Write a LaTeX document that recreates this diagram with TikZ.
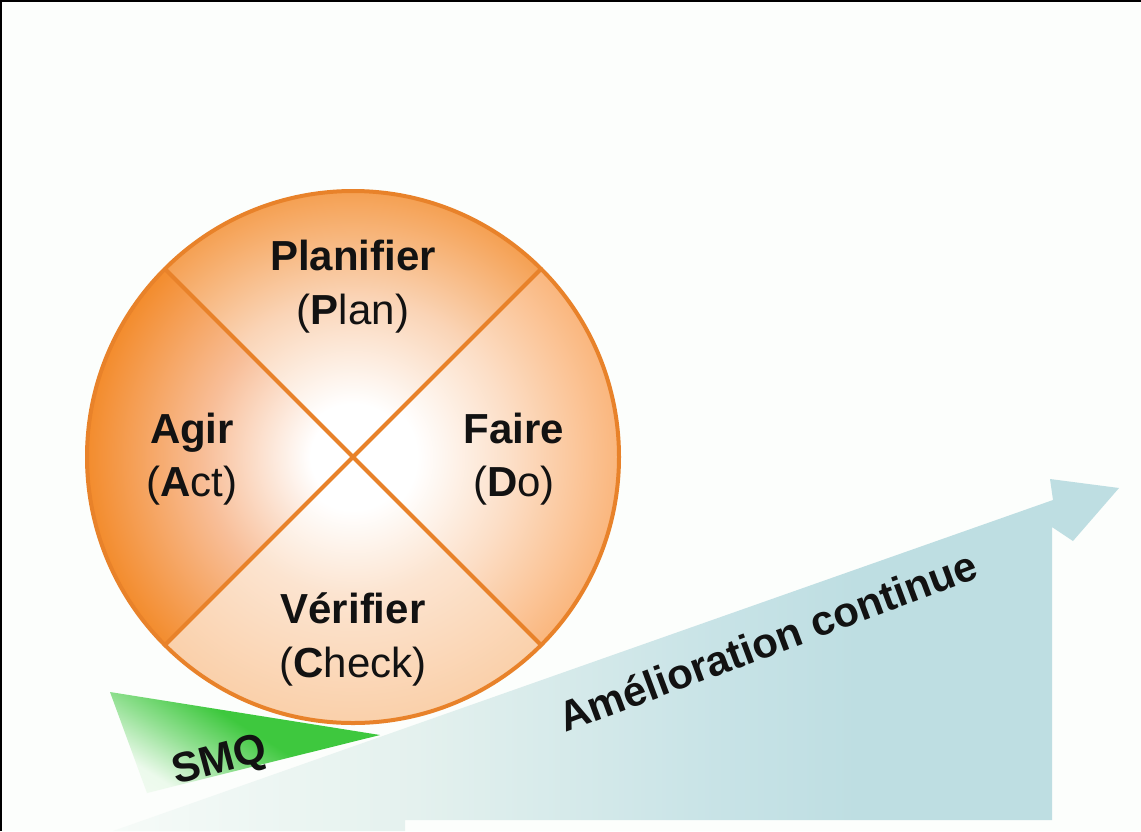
\documentclass[tikz,border=0pt]{standalone}
\usepackage{fontspec}
\setmainfont{Liberation Sans}
\definecolor{bg}{RGB}{252,254,252}
\definecolor{rim}{RGB}{232,130,42}
\definecolor{qtopc}{RGB}{245,160,82}
\definecolor{qtopm}{RGB}{250,212,182}
\definecolor{qleftc}{RGB}{243,140,45}
\definecolor{qleftm}{RGB}{248,190,152}
\definecolor{qrightc}{RGB}{250,182,125}
\definecolor{qrightm}{RGB}{252,222,198}
\definecolor{qbotc}{RGB}{250,208,170}
\definecolor{qbotm}{RGB}{252,228,208}
\definecolor{rampblue}{RGB}{190,222,226}
\definecolor{rampmid}{RGB}{228,241,238}
\definecolor{rampwhite}{RGB}{246,251,248}
\definecolor{smqgreen}{RGB}{62,200,62}
\definecolor{ink}{RGB}{18,18,18}
\pgfdeclareradialshading{qtop}{\pgfpoint{0bp}{0bp}}{color(0bp)=(white); color(5bp)=(white); color(15bp)=(qtopm); color(25bp)=(qtopc); color(50bp)=(qtopc)}
\pgfdeclareradialshading{qleft}{\pgfpoint{0bp}{0bp}}{color(0bp)=(white); color(4bp)=(white); color(14bp)=(qleftm); color(25bp)=(qleftc); color(50bp)=(qleftc)}
\pgfdeclareradialshading{qright}{\pgfpoint{0bp}{0bp}}{color(0bp)=(white); color(6bp)=(white); color(15bp)=(qrightm); color(25bp)=(qrightc); color(50bp)=(qrightc)}
\pgfdeclareradialshading{qbot}{\pgfpoint{0bp}{0bp}}{color(0bp)=(white); color(5bp)=(white); color(13bp)=(qbotm); color(25bp)=(qbotc); color(50bp)=(qbotc)}
\pgfdeclarehorizontalshading{ramp}{100bp}{color(0bp)=(rampwhite); color(25bp)=(rampwhite); color(40bp)=(rampmid); color(55bp)=(rampblue!85!white); color(62bp)=(rampblue); color(100bp)=(rampblue)}
\pgfdeclareverticalshading{wedge}{100bp}{color(0bp)=(white); color(27bp)=(white!90!smqgreen); color(40bp)=(smqgreen!55!white); color(54bp)=(smqgreen); color(100bp)=(smqgreen)}
\tikzset{
  rimline/.style={draw=rim, line width=4},
  lbl/.style={font=\fontsize{42}{50}\selectfont\bfseries, text=ink, inner sep=0, anchor=base},
  sub/.style={font=\fontsize{42}{50}\selectfont, text=ink, inner sep=0, anchor=base},
}
\begin{document}
\begin{tikzpicture}[x=1pt, y=-1pt]
\useasboundingbox (0,0) rectangle (1141,831);
\fill[bg] (0,0) rectangle (1141,831);
% ramp arrow
\shade[shading=ramp] (113,831) -- (1053,500) -- (1050,479) -- (1119,488) -- (1073,541) -- (1052,527) -- (1052,820) -- (405,820) -- (405,831) -- cycle;
% green wedge
\shade[shading=wedge, shading angle=-32] (110,692) -- (380,735) -- (147,793) -- cycle;
% circle
\coordinate (c) at (353,457);
\coordinate (nw) at (165,269);
\coordinate (ne) at (541,269);
\coordinate (sw) at (165,645);
\coordinate (se) at (541,645);
\begin{scope}
\clip (c) -- (-47,57) -- (753,57) -- cycle;
\shade[shading=qtop] (c) circle[radius=266];
\end{scope}
\begin{scope}
\clip (c) -- (-47,57) -- (-47,857) -- cycle;
\shade[shading=qleft] (c) circle[radius=266];
\end{scope}
\begin{scope}
\clip (c) -- (753,57) -- (753,857) -- cycle;
\shade[shading=qright] (c) circle[radius=266];
\end{scope}
\begin{scope}
\clip (c) -- (-47,857) -- (753,857) -- cycle;
\shade[shading=qbot] (c) circle[radius=266];
\end{scope}
\draw[rimline] (c) circle[radius=266];
\draw[rimline] (nw) -- (c) -- (se);
\draw[rimline] (ne) -- (c) -- (sw);
% labels
\node[lbl] (plan1) at (353,270) {Planifier};
\node[sub] (plan2) at (353,324) {(\textbf{P}lan)};
\node[lbl] (act1) at (192,443) {Agir};
\node[sub] (act2) at (192,496) {(\textbf{A}ct)};
\node[lbl] (do1) at (514,443) {Faire};
\node[sub] (do2) at (514,496) {(\textbf{D}o)};
\node[lbl] (chk1) at (353,623) {Vérifier};
\node[sub] (chk2) at (353,677) {(\textbf{C}heck)};
\node[lbl, anchor=base west, rotate=15] (smq) at (176,785) {SMQ};
\node[lbl, anchor=base west, rotate=20.5] (amel) at (565,733) {Amélioration continue};
% frame
\draw[black, line width=2] (1,831) -- (1,1) -- (1141,1);
\end{tikzpicture}
\end{document}
